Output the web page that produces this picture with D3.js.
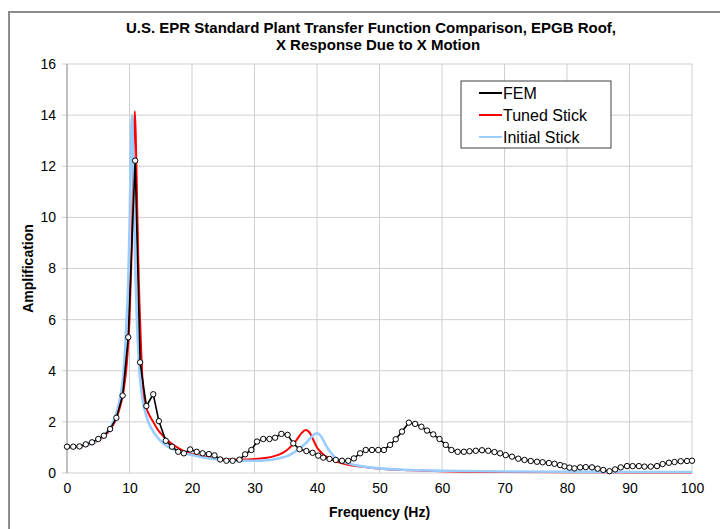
<!DOCTYPE html>
<html>
<head>
<meta charset="utf-8">
<script src="https://cdn.jsdelivr.net/npm/d3@7"></script>
<style>
  body { margin: 0; background: #fff; }
  text { font-family: "Liberation Sans", Arial, sans-serif; }
</style>
</head>
<body>
<script>
// FEM transfer function
let femFreq = [0, 1, 2, 3, 4, 5, 5.9, 6.9, 7.9, 8.9, 9.8, 10.9, 11.7, 12.7, 13.8, 14.7, 15.8, 16.8, 17.8, 18.7,
  19.7, 20.75, 21.7, 22.7, 23.6, 24.5, 25.5, 26.5, 27.6, 28.5, 29.5, 30.4, 31.4, 32.4, 33.3, 34.3, 35.3, 36.2, 37.2, 38.3,
  39.3, 40.2, 41, 42, 43, 44, 45, 45.9, 46.9, 47.8, 48.8, 49.8, 50.7, 51.7, 52.6, 53.6, 54.7, 55.7, 56.7, 57.6,
  58.6, 59.6, 60.6, 61.5, 62.5, 63.5, 64.4, 65.4, 66.4, 67.4, 68.4, 69.3, 70.2, 71.2, 72.2, 73.2, 74.2, 75.2, 76.1, 77.1,
  78, 78.9, 79.6, 80.4, 81.2, 82.1, 83, 84, 84.9, 85.8, 86.8, 87.7, 88.6, 89.6, 90.5, 91.5, 92.4, 93.4, 94.4, 95.3,
  96.3, 97.2, 98.2, 99.2, 100];
let femAmp = [1.03, 1.03, 1.04, 1.12, 1.2, 1.33, 1.46, 1.72, 2.16, 3.03, 5.31, 12.22, 4.33, 2.62, 3.08, 2.03, 1.26, 1.03, 0.83, 0.77,
  0.92, 0.83, 0.77, 0.74, 0.69, 0.53, 0.48, 0.48, 0.52, 0.73, 0.9, 1.23, 1.33, 1.33, 1.38, 1.53, 1.49, 1.16, 0.93, 0.86,
  0.79, 0.68, 0.6, 0.55, 0.51, 0.48, 0.48, 0.57, 0.77, 0.9, 0.9, 0.9, 0.9, 1.1, 1.32, 1.62, 1.97, 1.92, 1.81, 1.66,
  1.51, 1.33, 1.1, 0.9, 0.83, 0.83, 0.85, 0.87, 0.89, 0.87, 0.82, 0.77, 0.7, 0.64, 0.56, 0.51, 0.47, 0.44, 0.42, 0.39,
  0.36, 0.31, 0.26, 0.21, 0.18, 0.22, 0.23, 0.22, 0.17, 0.12, 0.07, 0.14, 0.22, 0.27, 0.27, 0.27, 0.25, 0.25, 0.27, 0.35,
  0.4, 0.43, 0.46, 0.47, 0.48];

// Tuned stick model
let tunedFreq = [0, 2, 4, 5, 6, 7, 8, 8.5, 9, 9.5, 10, 10.3, 10.5, 10.7, 10.85, 11, 11.2, 11.4, 11.6, 11.8,
  12, 12.2, 12.5, 13, 13.8, 14.5, 15, 16, 17, 18, 19, 20, 22, 24, 26, 28, 30, 31, 32, 33,
  34, 35, 36, 36.75, 37.5, 38.2, 38.9, 39.5, 40, 40.5, 41, 42, 43, 44, 45, 47, 50, 55, 60, 70,
  80, 90, 100];
let tunedAmp = [1, 1.03, 1.15, 1.28, 1.45, 1.72, 2.2, 2.6, 3.15, 4.1, 6, 8.3, 10.5, 13.2, 14.15, 13.2, 10.8, 8.4, 6.6, 5.2,
  4, 3.2, 2.7, 2.35, 2, 1.7, 1.55, 1.3, 1.1, 0.95, 0.82, 0.74, 0.65, 0.58, 0.54, 0.53, 0.55, 0.57, 0.6, 0.65,
  0.73, 0.86, 1.08, 1.3, 1.55, 1.68, 1.55, 1.25, 1, 0.85, 0.72, 0.57, 0.46, 0.38, 0.32, 0.25, 0.17, 0.11, 0.07, 0.04,
  0.03, 0.02, 0.02];

// Initial stick model
let initFreq = [0, 2, 4, 5, 6, 7, 8, 8.5, 9, 9.5, 9.8, 10, 10.2, 10.4, 10.6, 10.8, 11, 11.3, 11.6, 12,
  12.5, 13, 14, 15, 16, 17, 18, 19, 20, 22, 24, 26, 28, 30, 32, 33, 34, 35, 36, 37,
  38, 39, 39.6, 40.1, 40.6, 41, 41.5, 42.1, 43.1, 44.2, 45.5, 47, 50, 55, 60, 70, 80, 90, 100];
let initAmp = [1, 1.04, 1.17, 1.3, 1.5, 1.8, 2.4, 2.95, 3.8, 5.8, 7.5, 9.5, 12.3, 14, 12.2, 9.5, 7.4, 5.3, 4, 3,
  2.4, 2, 1.55, 1.25, 1.05, 0.93, 0.83, 0.76, 0.7, 0.6, 0.54, 0.5, 0.48, 0.48, 0.5, 0.53, 0.58, 0.64, 0.76, 0.92,
  1.12, 1.38, 1.52, 1.55, 1.45, 1.29, 1.05, 0.83, 0.57, 0.44, 0.34, 0.27, 0.18, 0.12, 0.09, 0.06, 0.05, 0.04, 0.04];

let xTicks = [0, 10, 20, 30, 40, 50, 60, 70, 80, 90, 100];
let yTicks = [0, 2, 4, 6, 8, 10, 12, 14, 16];

let series = [
  { name: 'FEM', color: '#000000', width: 1.6 },
  { name: 'Tuned Stick', color: '#ff0000', width: 2 },
  { name: 'Initial Stick', color: '#99ccff', width: 2.6 }
];

let width = 720, height = 529;
let margin = { top: 64, bottom: 56, left: 67, right: 28 };

let svg = d3.select('body')
  .append('svg')
  .attr('width', width)
  .attr('height', height);

// outer frame
svg.append('rect')
  .attr('x', 9).attr('y', 12)
  .attr('width', 720).attr('height', 530)
  .attr('fill', 'none')
  .attr('stroke', '#8c8c8c')
  .attr('stroke-width', 2);

let x = d3.scaleLinear().domain([0, 100]).range([margin.left, width - margin.right]);
let y = d3.scaleLinear().domain([0, 16]).range([height - margin.bottom, margin.top]);

// grid
svg.append('g')
  .selectAll('line.v')
  .data(xTicks)
  .enter().append('line')
  .attr('x1', d => x(d)).attr('x2', d => x(d))
  .attr('y1', y(0)).attr('y2', y(16))
  .attr('stroke', '#cfcfcf');

svg.append('g')
  .selectAll('line.h')
  .data(yTicks)
  .enter().append('line')
  .attr('x1', x(0) - 5).attr('x2', x(100))
  .attr('y1', d => y(d)).attr('y2', d => y(d))
  .attr('stroke', '#cfcfcf');

svg.append('line')
  .attr('x1', x(0)).attr('x2', x(0))
  .attr('y1', y(0)).attr('y2', y(16))
  .attr('stroke', '#9a9a9a');

// axes labels
let yAxis = svg.append('g')
  .attr('transform', `translate(${x(0)},0)`)
  .call(d3.axisLeft(y).tickValues(yTicks).tickSize(0).tickPadding(11));
yAxis.select('.domain').remove();
yAxis.selectAll('text').style('font-size', '14px').style('font-family', '"Liberation Sans", Arial, sans-serif');

let xAxis = svg.append('g')
  .attr('transform', `translate(0,${y(0)})`)
  .call(d3.axisBottom(x).tickValues(xTicks).tickSize(0).tickPadding(10));
xAxis.select('.domain').remove();
xAxis.selectAll('text').style('font-size', '14px').style('font-family', '"Liberation Sans", Arial, sans-serif');

// lines
let line = d3.line().x(d => x(d[0])).y(d => y(d[1]));

let initPts = d3.zip(initFreq, initAmp);
let tunedPts = d3.zip(tunedFreq, tunedAmp);
let femPts = d3.zip(femFreq, femAmp);

svg.append('path').datum(tunedPts)
  .attr('d', line.curve(d3.curveMonotoneX))
  .attr('fill', 'none').attr('stroke', series[1].color).attr('stroke-width', series[1].width);

svg.append('path').datum(initPts)
  .attr('d', line.curve(d3.curveMonotoneX))
  .attr('fill', 'none').attr('stroke', series[2].color).attr('stroke-width', series[2].width);

svg.append('path').datum(femPts)
  .attr('d', line.curve(d3.curveLinear))
  .attr('fill', 'none').attr('stroke', series[0].color).attr('stroke-width', series[0].width);

svg.append('g')
  .selectAll('circle')
  .data(femPts)
  .enter().append('circle')
  .attr('cx', d => x(d[0]))
  .attr('cy', d => y(d[1]))
  .attr('r', 2.7)
  .attr('fill', '#fff')
  .attr('stroke', '#000')
  .attr('stroke-width', 1);

// titles
svg.append('text')
  .attr('x', 371).attr('y', 33)
  .attr('text-anchor', 'middle')
  .style('font-size', '15px').style('font-weight', 'bold')
  .text('U.S. EPR Standard Plant Transfer Function Comparison, EPGB Roof,');
svg.append('text')
  .attr('x', 378).attr('y', 50)
  .attr('text-anchor', 'middle')
  .style('font-size', '15px').style('font-weight', 'bold')
  .text('X Response Due to X Motion');

svg.append('text')
  .attr('x', x(50)).attr('y', 517)
  .attr('text-anchor', 'middle')
  .style('font-size', '14px').style('font-weight', 'bold')
  .text('Frequency (Hz)');

svg.append('text')
  .attr('transform', `translate(33,${y(8)}) rotate(-90)`)
  .attr('text-anchor', 'middle')
  .style('font-size', '14px').style('font-weight', 'bold')
  .text('Amplification');

// legend
let legend = svg.append('g').attr('transform', 'translate(461,81)');
legend.append('rect')
  .attr('width', 150).attr('height', 67)
  .attr('fill', '#fff')
  .attr('stroke', '#404040');
let item = legend.selectAll('g.item')
  .data(series)
  .enter().append('g')
  .attr('transform', (d, i) => `translate(0,${12 + i * 22})`);
item.append('line')
  .attr('x1', 18).attr('x2', 41)
  .attr('stroke', d => d.color).attr('stroke-width', 2);
item.append('text')
  .attr('x', 42).attr('y', 6)
  .style('font-size', '16px')
  .text(d => d.name);
</script>
</body>
</html>
